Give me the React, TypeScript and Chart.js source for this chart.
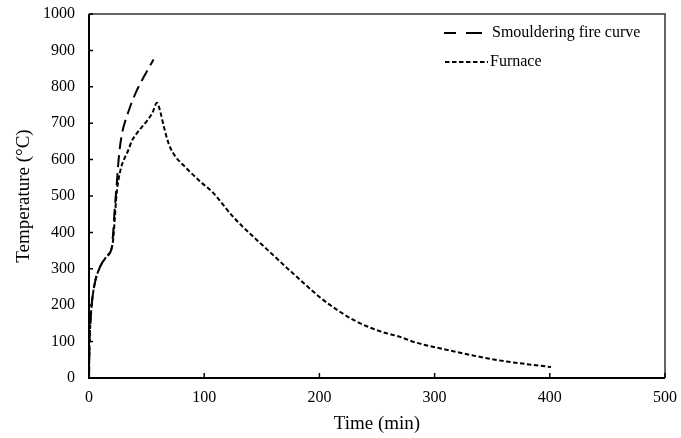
import React, { useEffect, useRef } from "react";
import { Chart, registerables } from "chart.js";

Chart.register(...registerables);

const smoulderTime = [0, 0.5, 1.2, 2.3, 5, 9.6, 15, 19.7, 21, 22, 24, 26, 28, 30, 33, 36, 41.5, 46, 50, 56];
const smoulderTemp = [0, 100, 150, 200, 260, 305, 333, 357, 400, 450, 530, 610, 660, 690, 720, 748, 790, 818, 841, 875];

const furnaceTime = [0, 0.5, 1.2, 2.3, 5, 9.6, 15, 19.7, 21, 22, 24, 25.6, 28, 31, 34, 37, 41.5, 46, 50, 55, 59, 62, 65, 69, 73, 85, 96.5, 108, 125, 155, 183.5, 203.5, 230, 253, 270, 282, 311, 355, 401];
const furnaceTemp = [0, 100, 150, 200, 260, 305, 333, 357, 380, 420, 508, 544, 580, 605, 625, 650, 672, 690, 705, 728, 756, 730, 690, 645, 618, 575, 540, 508, 443, 352, 269, 214, 159, 128, 113, 99, 77, 49, 30];

const xTicks = [0, 100, 200, 300, 400, 500];
const yTicks = [0, 100, 200, 300, 400, 500, 600, 700, 800, 900, 1000];

const seriesNames = ["Smouldering fire curve", "Furnace"];

const FONT = "'Liberation Serif', 'Times New Roman', serif";

const framePlugin = {
  id: "frame",
  afterDraw(chart: any) {
    const { ctx, chartArea } = chart;
    const { left, right, top, bottom } = chartArea;
    const xs = chart.scales.x;
    const ys = chart.scales.y;
    ctx.save();
    ctx.strokeStyle = "#333";
    ctx.lineWidth = 1.5;
    ctx.beginPath();
    ctx.moveTo(left, top);
    ctx.lineTo(right, top);
    ctx.lineTo(right, bottom);
    ctx.stroke();
    ctx.strokeStyle = "#000";
    ctx.lineWidth = 2;
    ctx.beginPath();
    ctx.moveTo(left, top);
    ctx.lineTo(left, bottom);
    ctx.lineTo(right, bottom);
    ctx.stroke();
    ctx.lineWidth = 1.5;
    ctx.beginPath();
    yTicks.forEach((v) => {
      const p = ys.getPixelForValue(v);
      ctx.moveTo(left, p);
      ctx.lineTo(left + 4, p);
    });
    xTicks.forEach((v) => {
      const p = xs.getPixelForValue(v);
      ctx.moveTo(p, bottom);
      ctx.lineTo(p, bottom - 5);
    });
    ctx.stroke();
    // legend
    ctx.fillStyle = "#000";
    ctx.font = `16px ${FONT}`;
    ctx.textBaseline = "middle";
    ctx.textAlign = "left";
    ctx.lineWidth = 2;
    // long-dash sample
    ctx.beginPath();
    ctx.moveTo(444, 33);
    ctx.lineTo(456, 33);
    ctx.moveTo(466, 33);
    ctx.lineTo(482, 33);
    ctx.stroke();
    ctx.fillText(seriesNames[0], 492, 33);
    // short-dash sample
    ctx.save();
    ctx.setLineDash([4.5, 2.5]);
    ctx.beginPath();
    ctx.moveTo(445, 62);
    ctx.lineTo(488, 62);
    ctx.stroke();
    ctx.restore();
    ctx.fillText(seriesNames[1], 490, 62);
    ctx.restore();
  },
};

export default function App() {
  const ref = useRef<HTMLCanvasElement>(null);
  useEffect(() => {
    document.body.style.margin = "0";
    const toPts = (xs: number[], ys: number[]) => xs.map((x, i) => ({ x, y: ys[i] }));
    const zeroPad = (s: any) => {
      s.paddingTop = 0;
      s.paddingBottom = 0;
      s.paddingLeft = 0;
      s.paddingRight = 0;
    };
    const chart = new Chart(ref.current!, {
      type: "line",
      data: {
        datasets: [
          {
            label: seriesNames[0],
            data: toPts(smoulderTime, smoulderTemp),
            borderColor: "#000",
            borderWidth: 2,
            borderDash: [12, 6],
            pointRadius: 0,
            cubicInterpolationMode: "monotone",
            fill: false,
          },
          {
            label: seriesNames[1],
            data: toPts(furnaceTime, furnaceTemp),
            borderColor: "#000",
            borderWidth: 2,
            borderDash: [4.5, 2.5],
            pointRadius: 0,
            cubicInterpolationMode: "monotone",
            fill: false,
          },
        ],
      },
      options: {
        responsive: false,
        animation: false,
        layout: { padding: { left: 0, top: 14, right: 16, bottom: 0 } },
        plugins: { legend: { display: false }, tooltip: { enabled: false } },
        scales: {
          x: {
            type: "linear",
            min: 0,
            max: 500,
            afterBuildTicks: (s: any) => {
              s.ticks = xTicks.map((v) => ({ value: v }));
            },
            afterFit: (s: any) => {
              s.height = 60;
              zeroPad(s);
            },
            grid: { display: false, drawTicks: false },
            border: { display: false },
            ticks: { color: "#000", font: { family: FONT, size: 16 }, padding: 10, callback: (v: any) => String(v) },
            title: {
              display: true,
              text: "Time (min)",
              color: "#000",
              font: { family: FONT, size: 19 },
              padding: { top: 0, bottom: 3 },
            },
          },
          y: {
            type: "linear",
            min: 0,
            max: 1000,
            afterBuildTicks: (s: any) => {
              s.ticks = yTicks.map((v) => ({ value: v }));
            },
            afterFit: (s: any) => {
              s.width = 89;
              zeroPad(s);
            },
            grid: { display: false, drawTicks: false },
            border: { display: false },
            ticks: { color: "#000", font: { family: FONT, size: 16 }, padding: 14, callback: (v: any) => String(v) },
            title: {
              display: true,
              text: "Temperature (°C)",
              color: "#000",
              font: { family: FONT, size: 19 },
              padding: { top: 13, bottom: 0 },
            },
          },
        },
      },
      plugins: [framePlugin],
    });
    return () => chart.destroy();
  }, []);
  return (
    <div style={{ position: "absolute", left: 0, top: 0, width: 681, height: 438 }}>
      <canvas ref={ref} width={681} height={438} />
    </div>
  );
}
